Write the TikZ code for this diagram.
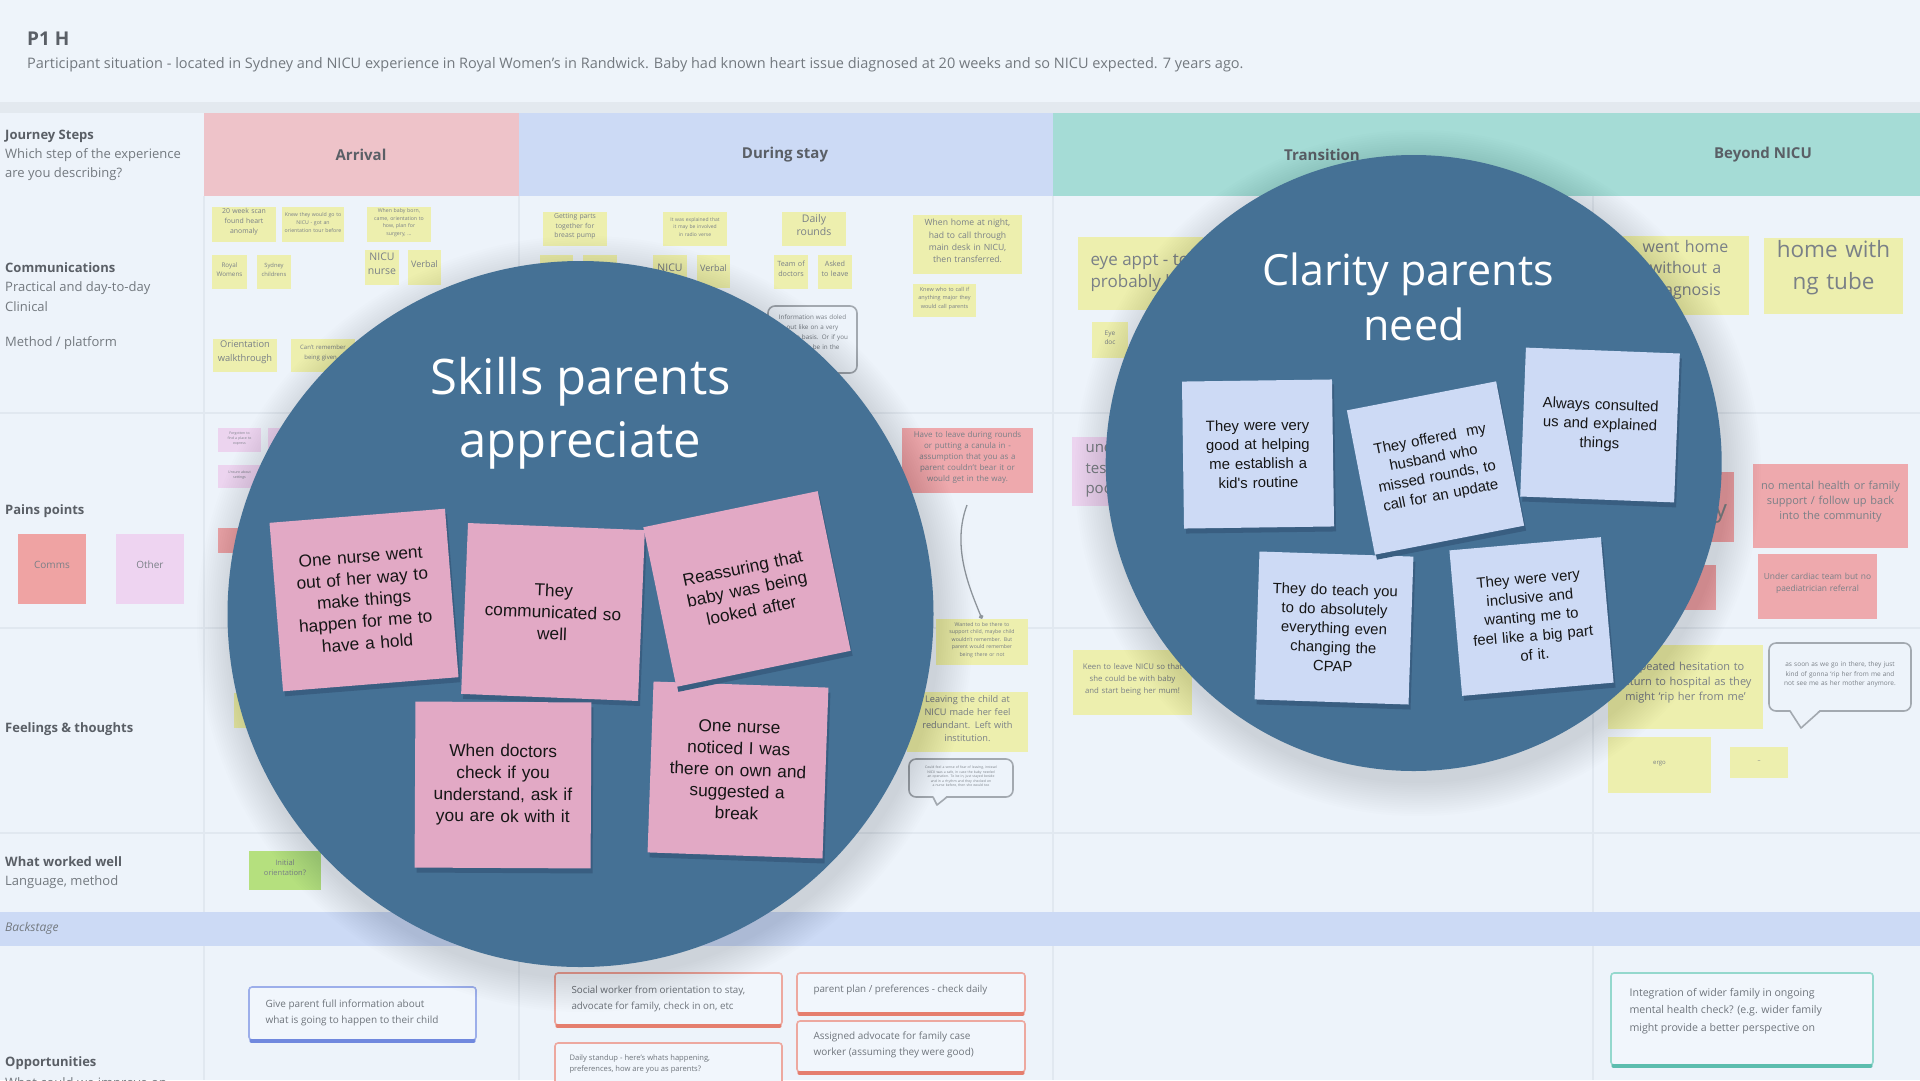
\documentclass[tikz,border=0pt]{standalone}
\usepackage{fontspec}
\setmainfont{Open Sans}
\newfontfamily\notefont{Liberation Sans}
\usetikzlibrary{fit,arrows.meta}
\definecolor{bgc}{HTML}{EDF3FA}
\definecolor{topc}{HTML}{EEF4FA}
\definecolor{hdrline}{HTML}{E3E9EF}
\definecolor{arrc}{HTML}{EEC3C9}
\definecolor{stayc}{HTML}{CCDAF5}
\definecolor{transc}{HTML}{A5DCD6}
\definecolor{sepc}{HTML}{E1E8F0}
\definecolor{yel}{HTML}{EDEFAE}
\definecolor{redn}{HTML}{EEA9AD}
\definecolor{lav}{HTML}{ECD4EF}
\definecolor{grn}{HTML}{B5E07E}
\definecolor{bgtext}{HTML}{7A8087}
\definecolor{labtext}{HTML}{5A5F66}
\definecolor{sublabtext}{HTML}{73797F}
\definecolor{circc}{HTML}{457195}
\definecolor{pinkn}{HTML}{E2A9C5}
\definecolor{bluen}{HTML}{CDDAF5}
\definecolor{noteshc}{HTML}{395E81}
\definecolor{notetext}{HTML}{161616}
\definecolor{bubc}{HTML}{A3A9B0}
\definecolor{conncol}{HTML}{8E959C}
\definecolor{cardblue}{HTML}{9CAEEA}
\definecolor{cardblueb}{HTML}{7088DE}
\definecolor{cardred}{HTML}{EDA89F}
\definecolor{cardredb}{HTML}{E57E6E}
\definecolor{cardteal}{HTML}{94D8CD}
\definecolor{cardtealb}{HTML}{5CBDAE}
\definecolor{cardfill}{HTML}{F1F6FC}
\definecolor{cardtext}{HTML}{6F757C}
\definecolor{commsc}{HTML}{EFA3A3}
\definecolor{otherc}{HTML}{EED4F1}
\newcommand{\bgnote}[8]{%
  \node[fill=#6, inner sep=0pt, fit={(#2,#3) (#4,#5)}, align=center, text=bgtext, font=#7] (#1) {#8};}
\newcommand{\fgnote}[8]{%
  \fill[noteshc, shift={(#2+2,#3+5)}, rotate=#6] (-#4/2,-#5/2) rectangle (#4/2,#5/2);
  \node[#7, rotate=#6, minimum width=#4pt, minimum height=#5pt, inner sep=0pt, align=center] (#1) at (#2,#3) {#8};}
\begin{document}
\begin{tikzpicture}[x=1pt,y=-1pt,
  lab/.style={anchor=west, inner sep=0pt, text=labtext, font=\fontsize{13}{16}\selectfont\bfseries},
  sublab/.style={anchor=west, inner sep=0pt, text=sublabtext, font=\fontsize{13}{16}\selectfont},
  hdr/.style={text=labtext, font=\fontsize{15}{18}\selectfont\bfseries},
  lnote/.style={fill=pinkn, text=notetext, text width=160pt, font=\notefont\fontsize{17.3}{21.7}\selectfont},
  rnote/.style={fill=bluen, text=notetext, text width=140pt, font=\notefont\fontsize{14.9}{19.1}\selectfont},
  conn/.style={draw=conncol, line width=1.3pt, -{Circle[length=4.5pt]}},
  bub/.style={draw=bubc, line width=1.6pt, rounded corners=7pt, fill=bgc},
  card/.style={rounded corners=3pt, line width=1.6pt, fill=cardfill, inner sep=0pt},
  cardtxt/.style={anchor=west, align=left, text=cardtext},
  title/.style={anchor=base, text=white},
]
\useasboundingbox (0,0) rectangle (1920,1080);
\fill[bgc] (0,0) rectangle (1920,1080);
\fill[topc] (0,0) rectangle (1920,102);
\fill[hdrline] (0,102) rectangle (1920,113);
% header bands
\fill[arrc] (204,113) rectangle (519,196);
\fill[stayc] (519,113) rectangle (1053,196);
\fill[transc] (1053,113) rectangle (1920,196);
% grid lines
\foreach \yy in {413,628,833} {\draw[sepc, line width=1.5pt] (0,\yy) -- (1920,\yy);}
\foreach \xx in {204,519,1053,1593} {\draw[sepc, line width=1.5pt] (\xx,196) -- (\xx,912); \draw[sepc, line width=1.5pt] (\xx,946) -- (\xx,1080);}
\fill[stayc] (0,912) rectangle (1920,946);
% titles
\node[anchor=west, inner sep=0pt, text=labtext, font=\fontsize{19}{22}\selectfont\bfseries] (p1h) at (27,39) {P1 H};
\node[anchor=west, inner sep=0pt, text=sublabtext, font=\fontsize{14.5}{17}\selectfont] (sit) at (27,65) {Participant situation - located in Sydney and NICU experience in Royal Women's in Randwick. Baby had known heart issue diagnosed at 20 weeks and so NICU expected. 7 years ago.};
% header labels
\node[hdr] (harr) at (361,155) {Arrival};
\node[hdr] (hstay) at (785,155) {During stay};
\node[hdr] (htra) at (1322,155) {Transition};
\node[hdr] (hbey) at (1763,155) {Beyond NICU};
% row labels
\node[lab] (l1) at (5,136) {Journey Steps};
\node[sublab] (l2) at (5,155) {Which step of the experience};
\node[sublab] (l3) at (5,174) {are you describing?};
\node[lab] (l4) at (5,268) {Communications};
\node[sublab] (l5) at (5,288) {Practical and day-to-day};
\node[sublab] (l6) at (5,307) {Clinical};
\node[sublab] (l7) at (5,343) {Method / platform};
\node[lab] (l8) at (5,511) {Pains points};
\node[lab] (l9) at (5,729) {Feelings \& thoughts};
\node[lab] (l10) at (5,862) {What worked well};
\node[sublab] (l11) at (5,882) {Language, method};
\node[anchor=west, inner sep=0pt, text=sublabtext, font=\fontsize{12}{15}\selectfont\itshape] (l12) at (5,928) {Backstage};
\node[lab] (l13) at (5,1063) {Opportunities};
\node[sublab] (l14) at (5,1084) {What could we improve on};
\bgnote{comms}{18}{534}{86}{604}{commsc}{\fontsize{10}{12}\selectfont}{Comms}
\bgnote{other}{116}{534}{184}{604}{otherc}{\fontsize{10}{12}\selectfont}{Other}
% communications row
\bgnote{b1}{212}{207}{276}{242}{yel}{\fontsize{6.9}{10}\selectfont}{20 week scan\\found heart\\anomaly}
\bgnote{b2}{282}{207}{344}{242}{yel}{\fontsize{5.2}{7.8}\selectfont}{Knew they would go to\\NICU - got an\\orientation tour before}
\bgnote{b3}{367}{207}{431}{242}{yel}{\fontsize{5.2}{7.5}\selectfont}{When baby born,\\came, orientation to\\how, plan for\\surgery, ...}
\bgnote{b4}{212}{255}{247}{289}{yel}{\fontsize{6.3}{9.3}\selectfont}{Royal\\Womens}
\bgnote{b5}{257}{255}{291}{289}{yel}{\fontsize{5.8}{9.3}\selectfont}{Sydney\\childrens}
\bgnote{b6}{365}{250}{399}{285}{yel}{\fontsize{10.5}{14}\selectfont}{NICU\\nurse}
\bgnote{b7}{408}{250}{441}{285}{yel}{\fontsize{9}{11}\selectfont}{Verbal}
\bgnote{b8}{213}{339}{277}{372}{yel}{\fontsize{9.3}{13.3}\selectfont}{Orientation\\walkthrough}
\bgnote{b9}{291}{339}{355}{372}{yel}{\fontsize{6}{10}\selectfont}{Can't remember\\being given...}
\bgnote{b10}{543}{212}{607}{246}{yel}{\fontsize{6.8}{9.5}\selectfont}{Getting parts\\together for\\breast pump}
\bgnote{b11}{540}{255}{573}{289}{yel}{\fontsize{6}{8}\selectfont}{}
\bgnote{b12}{583}{255}{617}{289}{yel}{\fontsize{6}{8}\selectfont}{}
\bgnote{b13}{663}{212}{727}{246}{yel}{\fontsize{5}{7.7}\selectfont}{It was explained that\\it may be involved\\in radio verse}
\bgnote{b14}{653}{255}{687}{288}{yel}{\fontsize{10.5}{12}\selectfont}{NICU}
\bgnote{b15}{697}{255}{730}{288}{yel}{\fontsize{9}{11}\selectfont}{Verbal}
\bgnote{b16}{782}{212}{846}{246}{yel}{\fontsize{10.5}{13.5}\selectfont}{Daily\\rounds}
\bgnote{b17}{774}{255}{808}{289}{yel}{\fontsize{7.2}{10}\selectfont}{Team of\\doctors}
\bgnote{b18}{818}{255}{852}{289}{yel}{\fontsize{7.2}{10}\selectfont}{Asked\\to leave}
\bgnote{b19}{913}{215}{1022}{274}{yel}{\fontsize{8.6}{12.3}\selectfont}{When home at night,\\had to call through\\main desk in NICU,\\then transferred.}
\bgnote{b20}{913}{284}{976}{317}{yel}{\fontsize{5.5}{8.2}\selectfont}{Knew who to call if\\anything major they\\would call parents}
\node[bub, fit={(768,306) (857,373)}, inner sep=0pt, align=center, text=bgtext, font=\fontsize{6.3}{10}\selectfont] (bb1) {Information was doled\\out like on a very\\need-to basis. Or if you\\asked to be in the\\room...};
\node[fill=yel, fit={(1078,237) (1203,310)}, inner sep=0pt] (b21) {};
\node[anchor=west, align=left, text=bgtext, font=\fontsize{17}{21.7}\selectfont] (b21t) at (1087,273) {eye appt - to\\probably l};
\bgnote{b22}{1092}{322}{1128}{358}{yel}{\fontsize{6.5}{9}\selectfont}{Eye\\doc}
\bgnote{b23}{1622}{236}{1749}{315}{yel}{\fontsize{16}{21.5}\selectfont}{went home\\without a\\diagnosis}
\bgnote{b24}{1764}{238}{1903}{314}{yel}{\fontsize{22.5}{32}\selectfont}{home with\\ng tube}
% pain points row
\bgnote{b25}{218}{428}{261}{452}{lav}{\fontsize{3.5}{5}\selectfont}{Forgotten to\\find a place to\\express}
\bgnote{b26}{268}{428}{300}{452}{lav}{\fontsize{3.5}{5}\selectfont}{}
\bgnote{b27}{218}{465}{261}{488}{lav}{\fontsize{3.5}{5}\selectfont}{Unsure about\\settings}
\bgnote{b28}{218}{528}{250}{553}{redn}{\fontsize{3.5}{5}\selectfont}{}
\bgnote{b29}{902}{428}{1033}{493}{redn}{\fontsize{8}{10.8}\selectfont}{Have to leave during rounds\\or putting a canula in -\\assumption that you as a\\parent couldn't bear it or\\would get in the way.}
\node[fill=lav, fit={(1072,437) (1140,506)}, inner sep=0pt] (b30) {};
\node[anchor=west, align=left, text=bgtext, font=\fontsize{15}{20.5}\selectfont] (b30t) at (1082,471) {une\\tes\\poo};
\bgnote{b31}{1650}{472}{1734}{542}{redn}{\fontsize{6}{8}\selectfont}{}
\node[text=bgtext, font=\fontsize{24}{28}\selectfont] (b31t) at (1721,514) {y};
\bgnote{b32}{1650}{565}{1716}{610}{redn}{\fontsize{6}{8}\selectfont}{}
\bgnote{b33}{1753}{464}{1908}{548}{redn}{\fontsize{11}{15}\selectfont}{no mental health or family\\support / follow up back\\into the community}
\bgnote{b34}{1758}{554}{1877}{619}{redn}{\fontsize{8.4}{11.7}\selectfont}{Under cardiac team but no\\paediatrician referral}
% connector
\coordinate (cstart) at (967,505);
% feelings row
\bgnote{b35}{234}{693}{300}{728}{yel}{\fontsize{5}{7}\selectfont}{}
\bgnote{b36}{936}{619}{1028}{665}{yel}{\fontsize{5.2}{7.4}\selectfont}{Wanted to be there to\\support child, maybe child\\wouldn't remember. But\\parent would remember\\being there or not}
\draw[conn] (cstart) .. controls (952,545) and (968,585) .. (b36.north);
\bgnote{b37}{907}{692}{1028}{752}{yel}{\fontsize{9.2}{12.8}\selectfont}{Leaving the child at\\NICU made her feel\\redundant. Left with\\institution.}
\node[bub, fit={(909,759) (1013,797)}, inner sep=0pt, align=center, text=bgtext, font=\fontsize{3.4}{4.4}\selectfont] (bb2) {Could feel a sense of fear of leaving, instead\\NICU was a safe, in case the baby needed\\an operation. To be in, just stayed beside\\and in a rhythm and they checked on\\a nurse before, then she would too};
\fill[bgc] (933,795.5) -- (937,805) -- (947,795.5) -- cycle;
\draw[bubc, line width=1.6pt, line join=round] (933,797) -- (937,805) -- (947,797);
\bgnote{b38}{1073}{650}{1192}{715}{yel}{\fontsize{7.8}{12}\selectfont}{Keen to leave NICU so that\\she could be with baby\\and start being her mum!}
\bgnote{b39}{1608}{645}{1763}{729}{yel}{\fontsize{11}{15}\selectfont}{Repeated hesitation to\\return to hospital as they\\might `rip her from me'}
\node[bub, fit={(1769,643) (1911,711)}, inner sep=0pt, align=center, text=bgtext, font=\fontsize{6.5}{9.7}\selectfont] (bb3) {as soon as we go in there, they just\\kind of gonna `rip her from me and\\not see me as her mother anymore.};
\fill[bgc] (1790,709.5) -- (1801,728) -- (1820,709.5) -- cycle;
\draw[bubc, line width=1.6pt, line join=round] (1790,711) -- (1801,728) -- (1820,711);
\bgnote{b40}{1608}{737}{1711}{793}{yel}{\fontsize{6}{8}\selectfont}{ergo}
\bgnote{b41}{1730}{747}{1788}{778}{yel}{\fontsize{6}{8}\selectfont}{--}
% what worked well
\bgnote{b42}{249}{851}{321}{890}{grn}{\fontsize{7.5}{10}\selectfont}{Initial\\orientation?}
% opportunities
\node[card, draw=cardblue, fit={(249,987) (476,1040)}] (c1) {};
\draw[cardblueb, line width=3.5pt, line cap=round] ([xshift=3pt]c1.south west) -- ([xshift=-3pt]c1.south east);
\node[cardtxt, font=\fontsize{10}{16}\selectfont] (c1t) at (262,1013) {Give parent full information about\\what is going to happen to their child};
\node[card, draw=cardred, fit={(555,973) (782,1025)}] (c2) {};
\draw[cardredb, line width=3.5pt, line cap=round] ([xshift=3pt]c2.south west) -- ([xshift=-3pt]c2.south east);
\node[cardtxt, font=\fontsize{9.8}{16}\selectfont] (c2t) at (568,999) {Social worker from orientation to stay,\\advocate for family, check in on, etc};
\node[card, draw=cardred, fit={(797,973) (1025,1013)}] (c3) {};
\draw[cardredb, line width=3.5pt, line cap=round] ([xshift=3pt]c3.south west) -- ([xshift=-3pt]c3.south east);
\node[cardtxt, font=\fontsize{9.8}{16}\selectfont] (c3t) at (810,990) {parent plan / preferences - check daily};
\node[card, draw=cardred, fit={(555,1043) (782,1088)}] (c4) {};
\node[cardtxt, font=\fontsize{7.6}{11.7}\selectfont] (c4t) at (566,1064) {Daily standup - here's whats happening,\\preferences, how are you as parents?};
\node[card, draw=cardred, fit={(797,1021) (1025,1072)}] (c5) {};
\draw[cardredb, line width=3.5pt, line cap=round] ([xshift=3pt]c5.south west) -- ([xshift=-3pt]c5.south east);
\node[cardtxt, font=\fontsize{10}{16}\selectfont] (c5t) at (810,1045) {Assigned advocate for family case\\worker (assuming they were good)};
\node[card, draw=cardteal, fit={(1611,973) (1873,1065)}] (c6) {};
\draw[cardtealb, line width=3.5pt, line cap=round] ([xshift=3pt]c6.south west) -- ([xshift=-3pt]c6.south east);
\node[cardtxt, font=\fontsize{10.6}{17.5}\selectfont] (c6t) at (1626,1011) {Integration of wider family in ongoing\\mental health check? (e.g. wider family\\might provide a better perspective on};
% circle halos
\foreach \k in {1,...,16} {
  \fill[black, opacity=0.009] (585,624) circle ({353+\k*2.2});
  \fill[black, opacity=0.009] (1418,473) circle ({308+\k*2.2});
}
\fill[circc] (580.5,614) circle (353);
\fill[circc] (1413.7,463) circle (308);
% titles
\node[title, font=\fontsize{49}{64}\selectfont] (t1a) at (580.5,394) {Skills parents};
\node[title, font=\fontsize{49}{64}\selectfont] (t1b) at (580.5,457) {appreciate};
\node[title, font=\fontsize{43}{55}\selectfont] (t2a) at (1408,285) {Clarity parents};
\node[title, font=\fontsize{43}{55}\selectfont] (t2b) at (1414,340) {need};
% left notes
\fgnote{n1}{364}{600}{176}{169}{4.6}{lnote}{One nurse went\\out of her way to\\make things\\happen for me to\\have a hold}
\fgnote{n2}{553}{612}{177}{171}{-2.3}{lnote}{They\\communicated so\\well}
\fgnote{n4}{503}{785}{176}{166}{-0.3}{lnote}{When doctors\\check if you\\understand, ask if\\you are ok with it}
\fgnote{n5}{738}{770}{175}{171}{-2}{lnote}{One nurse\\noticed I was\\there on own and\\suggested a\\break}
\fgnote{n3}{747}{589}{178}{163}{11.7}{lnote}{Reassuring that\\baby was being\\looked after}
% right notes
\fgnote{na}{1258}{454}{150}{147}{0.8}{rnote}{They were very\\good at helping\\me establish a\\kid's routine}
\fgnote{nc}{1600}{425}{154}{149}{-2.2}{rnote}{Always consulted\\us and explained\\things}
\fgnote{nd}{1334}{628}{154}{148}{-1.9}{rnote}{They do teach you\\to do absolutely\\everything even\\changing the\\CPAP}
\fgnote{ne}{1531.5}{616.5}{152}{146}{5}{rnote}{They were very\\inclusive and\\wanting me to\\feel like a big part\\of it.}
\fgnote{nb}{1435.5}{468}{152}{147}{11}{rnote}{They offered~~my\\husband who\\missed rounds, to\\call for an update}
\end{tikzpicture}
\end{document}
